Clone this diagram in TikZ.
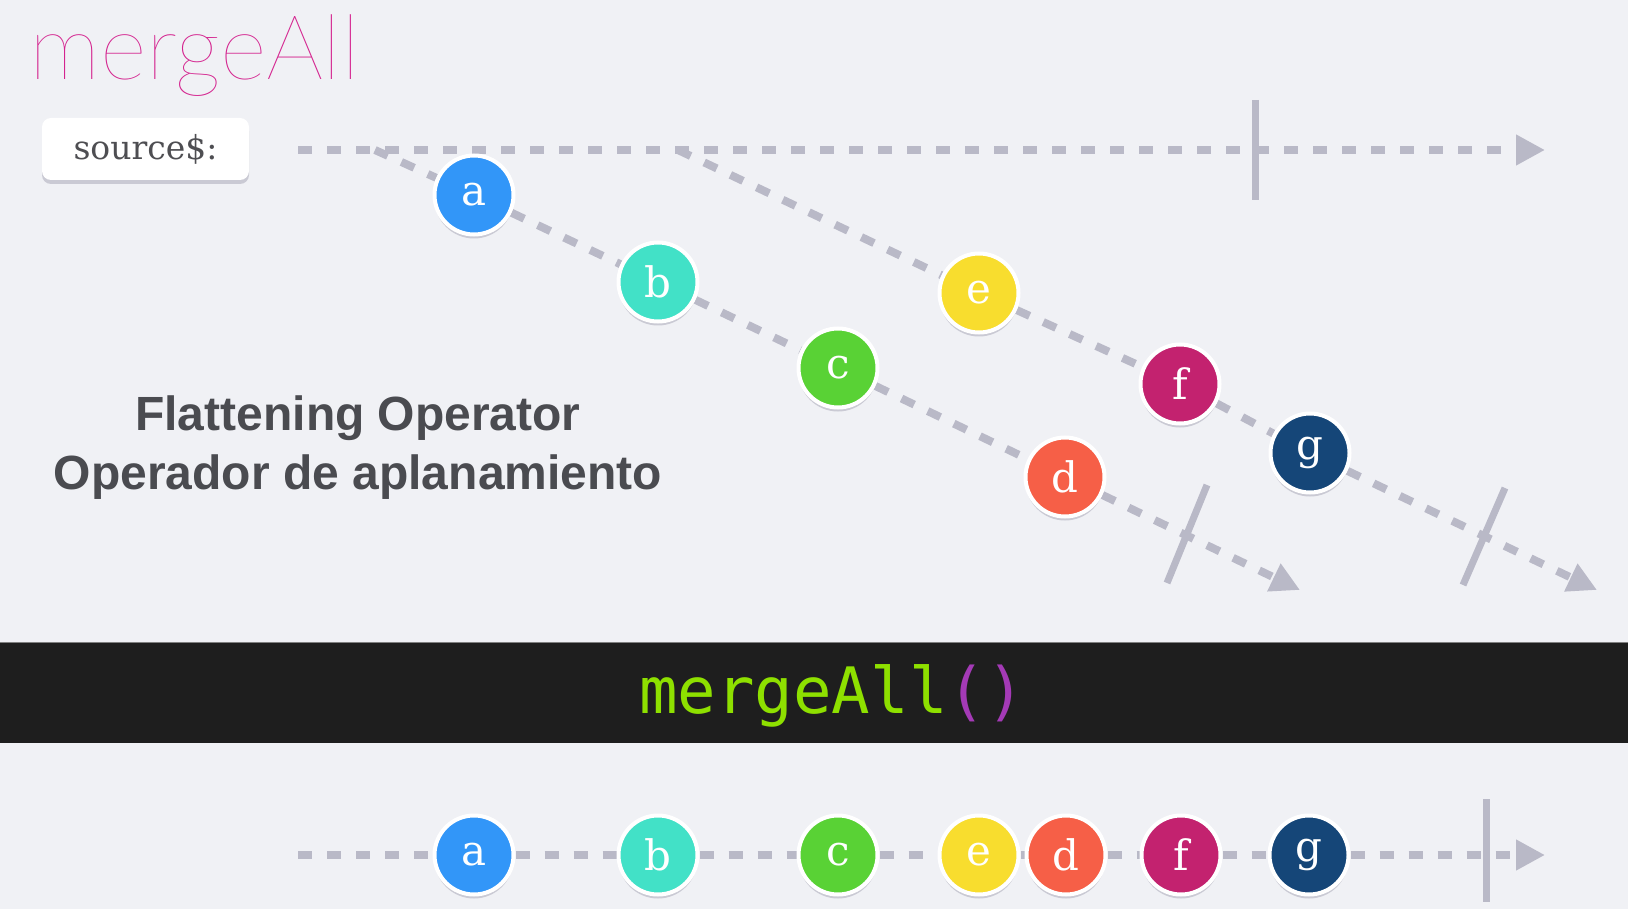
\documentclass[tikz,border=0pt]{standalone}
\usepackage{fontspec}
\usepackage{tikz}
\usetikzlibrary{arrows.meta}
\usetikzlibrary{shadows}
\usetikzlibrary{backgrounds}
\newfontfamily\hairfont{Lato Thin}
\newfontfamily\slabfont{DejaVu Serif}
\newfontfamily\headfont{Liberation Sans}
\newfontfamily\codefont{DejaVu Sans Mono}
\definecolor{bgpaper}{HTML}{F0F1F5}
\definecolor{streamgray}{HTML}{B9B9C7}
\definecolor{marbleshade}{HTML}{CACAD4}
\definecolor{titlepink}{HTML}{D4228E}
\definecolor{labelgray}{HTML}{4E4E52}
\definecolor{captiongray}{HTML}{4A4B50}
\definecolor{bandblack}{HTML}{1E1E1E}
\definecolor{codegreen}{HTML}{8EE000}
\definecolor{parenpurple}{HTML}{A43AB6}
\definecolor{mblue}{HTML}{3296F8}
\definecolor{mturq}{HTML}{42E1C7}
\definecolor{mgreen}{HTML}{59D235}
\definecolor{mred}{HTML}{F65F47}
\definecolor{myellow}{HTML}{F8DD2E}
\definecolor{mmagenta}{HTML}{C3226F}
\definecolor{mnavy}{HTML}{154678}
\tikzset{
  stream/.style={draw=streamgray, line width=8pt, dash pattern=on 14pt off 15pt},
  streamend/.style={-{Triangle[length=29pt,width=29pt]}},
  stopline/.style={draw=streamgray, line width=7pt},
  marble/.style={circle, draw=white, line width=4pt, minimum size=79pt, inner sep=0pt,
    text=white, font=\slabfont\fontsize{42}{46}\selectfont,
    drop shadow={shadow xshift=0pt, shadow yshift=-4pt, fill=marbleshade, opacity=1}},
  sourcebox/.style={rectangle, rounded corners=9pt, fill=white, minimum width=207pt,
    minimum height=62pt, inner sep=0pt, text=labelgray, font=\slabfont\fontsize{33}{36}\selectfont,
    drop shadow={shadow xshift=0pt, shadow yshift=-4pt, fill=marbleshade, opacity=1}},
  caption/.style={anchor=base, inner sep=0pt, text=captiongray,
    font=\headfont\bfseries\fontsize{48}{52}\selectfont}
}
\newcommand{\marble}[5]{\node[marble, fill=#4] (#1) at (#2,#3) {#5};}

\begin{document}
\begin{tikzpicture}[x=1pt,y=-1pt]
\useasboundingbox (0,0) rectangle (1628,909);
% title
\node[anchor=base west, inner sep=0pt, text=titlepink, font=\hairfont\fontsize{90}{96}\selectfont] (title) at (29,80) {mergeAll};
\node[sourcebox] (source) at (145.5,149) {source\$:};
\node[caption] (cap1) at (358,430) {Flattening Operator};
\node[caption] (cap2) at (358,489) {Operador de aplanamiento};

% streams
\coordinate (s0) at (298,150);
\coordinate (t0) at (1545,150);
\coordinate (s1) at (375,150);
\coordinate (t1) at (1300,590);
\coordinate (s2) at (678,150);
\coordinate (t2) at (1597,590);
\coordinate (s3) at (298,855);
\coordinate (t3) at (1545,855);

% inner 1
\marble{a1}{474}{195}{mblue}{a}
\marble{b1}{658}{282}{mturq}{b}
\marble{c1}{838}{368}{mgreen}{c}
\marble{d1}{1065}{477}{mred}{d}
% inner 2
\marble{e1}{979}{293}{myellow}{e}
\marble{f1}{1180}{384}{mmagenta}{f}
\marble{g1}{1310}{453}{mnavy}{g}

% operator
\fill[bandblack] (0,642) rectangle (1628,743);
\draw[gray, line width=1pt] (0,642) -- (1628,642);
\node[anchor=base, inner sep=0pt, text=codegreen, font=\codefont\fontsize{64}{70}\selectfont] (op) at (832,713) {mergeAll\textcolor{parenpurple}{()}};

% output
\marble{a2}{474}{855}{mblue}{a}
\marble{b2}{658}{855}{mturq}{b}
\marble{c2}{838}{855}{mgreen}{c}
\marble{e2}{979}{855}{myellow}{e}
\marble{d2}{1066}{855}{mred}{d}
\marble{f2}{1181}{855}{mmagenta}{f}
\marble{g2}{1309}{855}{mnavy}{g}

\begin{scope}[on background layer]
\fill[bgpaper] (0,0) rectangle (1628,909);
\draw[stream, streamend] (s0) -- (t0);
\draw[stopline] (1255,100) -- (1255,200);
\draw[stream, streamend] (s1) -- (a1) -- (b1) -- (c1) -- (d1) -- (t1);
\draw[stopline] (1207,485) -- (1167,583);
\draw[stream, streamend] (s2) -- (e1) -- (f1) -- (g1) -- (t2);
\draw[stream, streamend] (s3) -- (a2) -- (b2) -- (c2) -- (e2) -- (d2) -- (f2) -- (g2) -- (t3);
\draw[stopline] (1505,488) -- (1463,585);
\draw[stopline] (1486,799) -- (1486,902);
\end{scope}
\end{tikzpicture}
\end{document}
